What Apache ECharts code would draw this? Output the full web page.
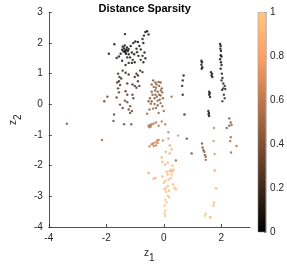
<!DOCTYPE html>
<html><head><meta charset="utf-8">
<script src="https://cdn.jsdelivr.net/npm/echarts@6/dist/echarts.min.js"></script>
<style>html,body{margin:0;padding:0;background:#fff}#c{width:287px;height:268px}</style>
</head><body><div id="c"></div>
<script>
// Point coordinates (z1, z2) and distance-sparsity value
const z1 = [
 -1.35,-0.64,-0.58,-0.53,-0.69,-0.74,-1.72,-1.91,-1.64,
 -1.43,-1.38,-1.35,-1.30,-1.33,-1.40,-1.28,-1.25,-1.45,-1.36,-1.32,-1.22,
 -1.06,-0.99,-0.90,-0.85,-0.95,-0.80,-0.71,-0.67,-1.11,-1.03,-1.22,-1.17,-0.88,-0.74,-0.64,-0.71,-1.01,-1.11,-1.22,-1.33,-1.45,-1.56,-1.27,
 -1.15,-0.93,-1.50,-1.08,-0.80,
 -0.82,-0.74,-0.90,-1.01,-0.95,-1.22,-1.33,-1.43,-1.59,-1.54,-1.48,-1.56,-1.62,-1.59,-1.52,-1.27,-1.09,-1.01,-0.85,-0.90,-0.95,
 -1.33,-1.27,-1.35,-1.27,-1.09,-1.06,-1.17,-1.22,-1.17,-1.11,-1.43,-1.52,-1.64,-1.73,-1.75,-1.38,-1.13,-1.96,-2.07,-1.56,-3.37,-2.15,
 -0.37,-0.29,-0.18,-0.11,-0.42,-0.35,-0.27,-0.16,-0.07,-0.21,-0.29,-0.16,-0.24,-0.11,-0.03,-0.39,-0.48,-0.53,-0.42,-0.32,-0.21,-0.11,-0.05,-0.27,-0.37,-0.50,-0.58,-0.18,0.00,-0.14,-0.21,-0.32,-0.42,-0.05,0.27,
 -0.25,-0.10,-0.30,-0.45,
 -0.53,-0.48,-0.42,-0.35,-0.50,-0.27,-0.18,-0.07,0.05,-0.45,0.16,
 -0.50,-0.42,-0.37,-0.29,-0.23,-0.18,-0.21,-0.27,-0.35,-0.03,0.16,0.50,
 0.21,0.27,0.07,-0.07,-0.05,0.05,0.14,0.24,0.29,0.34,0.21,0.27,0.14,0.16,0.24,0.05,0.00,0.07,0.14,0.03,0.18,0.37,0.42,0.32,0.14,0.19,0.05,0.10,0.03,0.05,0.03,0.05,-0.05,-0.53,-0.29,-0.35,0.42,
 0.30,0.10,0.20,0.08,
 0.69,0.66,0.64,0.66,0.72,0.80,0.97,
 1.31,1.33,1.31,1.34,1.32,1.64,1.68,1.66,1.69,1.58,1.60,1.58,1.61,1.55,1.57,1.56,1.58,
 1.96,1.98,1.97,1.99,1.98,2.01,1.96,1.99,2.01,1.98,2.02,2.04,2.01,2.07,2.12,2.07,2.14,2.03,2.09,2.12,2.04,
 2.28,2.33,2.28,2.36,2.19,2.33,2.31,2.53,2.34,
 1.33,1.35,1.38,1.41,1.43,1.46,1.46,
 1.75,1.73,1.77,1.77,1.82,1.75,1.73,1.46,1.43,1.61,1.63
];
const z2 = [
 2.29,2.36,2.38,2.28,2.24,2.13,1.96,1.65,1.51,
 1.88,1.82,1.75,1.78,1.70,1.72,1.85,1.74,1.78,1.92,1.65,1.80,
 2.00,2.05,2.03,1.90,1.81,1.79,2.00,1.69,1.69,1.63,1.63,1.53,1.58,1.58,1.50,1.37,1.37,1.35,1.35,1.28,1.42,1.56,1.53,
 1.90,1.70,1.65,1.45,1.45,
 1.10,1.05,0.94,0.89,1.00,0.97,1.03,1.10,1.00,0.89,0.84,0.75,0.71,0.52,0.63,0.68,0.65,0.60,0.60,0.75,0.54,
 0.43,0.31,0.12,0.07,0.31,0.20,-0.06,-0.17,-0.28,-0.22,-0.12,-0.01,0.22,-0.33,-0.54,-0.65,-0.65,0.25,0.10,0.39,-0.63,-1.16,
 0.78,0.71,0.73,0.71,0.65,0.57,0.54,0.60,0.52,0.41,0.31,0.31,0.25,0.29,0.20,0.31,0.20,0.10,0.10,0.01,-0.03,0.04,-0.06,-0.12,-0.14,-0.17,-0.31,-0.28,-0.22,0.15,0.12,0.20,0.41,0.39,0.25,
 0.65,0.45,0.45,0.02,
 -0.70,-0.67,-0.65,-0.63,-0.75,-0.59,-0.70,-0.56,-0.65,-0.72,-0.91,
 -1.37,-1.30,-1.28,-1.24,-1.18,-1.16,-1.26,-1.34,-1.36,-1.18,-1.12,-1.02,
 -1.34,-1.47,-1.55,-1.73,-1.87,-1.97,-1.90,-2.13,-2.18,-2.13,-2.18,-2.29,-2.29,-2.45,-2.40,-2.50,-2.56,-2.72,-2.66,-2.77,-2.82,-2.72,-2.77,-2.61,-2.98,-3.03,-3.11,-3.19,-3.30,-3.46,-3.56,-3.64,-2.35,-2.24,-2.40,-2.43,-1.83,
 -2.00,-2.20,-1.60,-2.85,
 0.94,0.78,0.60,0.31,-0.33,-1.12,-1.60,
 1.42,1.37,1.29,1.21,1.16,1.05,1.00,0.94,0.89,0.41,0.36,0.31,0.24,-0.22,-0.28,-0.33,-0.38,
 1.97,1.90,1.81,1.74,1.60,1.56,1.47,1.37,1.28,1.16,1.00,0.86,0.78,0.68,0.60,0.52,0.50,0.47,0.31,0.20,0.10,
 -0.46,-0.59,-0.70,-0.67,-0.77,-1.07,-1.20,-1.36,-1.57,
 -1.28,-1.41,-1.50,-1.55,-1.65,-1.71,-1.81,
 -0.77,-1.20,-1.62,-2.16,-2.74,-3.21,-3.30,-3.57,-3.63,-3.67,-3.70
];
const sparsity = [
 0.02,0.01,0.01,0.02,0.02,0.03,0.03,0.05,0.06,
 0.01,0.01,0.02,0.01,0.02,0.02,0.01,0.02,0.02,0.01,0.03,0.02,
 0.02,0.02,0.02,0.03,0.03,0.03,0.02,0.04,0.03,0.04,0.04,0.05,0.05,0.05,0.06,0.07,0.06,0.06,0.07,0.08,0.07,0.06,0.05,
 0.02,0.04,0.05,0.06,0.07,
 0.10,0.10,0.12,0.13,0.12,0.13,0.12,0.11,0.13,0.14,0.15,0.16,0.17,0.20,0.18,0.18,0.18,0.20,0.20,0.17,0.21,
 0.22,0.24,0.26,0.27,0.24,0.25,0.28,0.29,0.30,0.30,0.28,0.27,0.25,0.30,0.32,0.33,0.33,0.25,0.27,0.23,0.33,0.45,
 0.36,0.37,0.37,0.37,0.38,0.38,0.39,0.38,0.39,0.40,0.40,0.41,0.41,0.41,0.42,0.40,0.41,0.42,0.42,0.43,0.43,0.43,0.44,0.44,0.44,0.45,0.46,0.45,0.45,0.42,0.42,0.41,0.40,0.40,0.45,
 0.38,0.40,0.39,0.43,
 0.55,0.55,0.55,0.54,0.56,0.54,0.56,0.55,0.57,0.55,0.65,
 0.60,0.60,0.60,0.60,0.60,0.60,0.61,0.61,0.61,0.66,0.70,0.70,
 0.75,0.78,0.78,0.80,0.82,0.83,0.83,0.85,0.86,0.85,0.86,0.87,0.87,0.88,0.88,0.89,0.90,0.91,0.90,0.92,0.92,0.90,0.90,0.90,0.94,0.94,0.95,0.95,0.96,0.97,0.98,0.98,0.87,0.78,0.80,0.80,0.45,
 0.85,0.87,0.80,0.93,
 0.05,0.06,0.08,0.10,0.15,0.25,0.30,
 0.03,0.03,0.03,0.04,0.04,0.04,0.04,0.05,0.05,0.06,0.06,0.07,0.07,0.08,0.08,0.09,0.09,
 0.01,0.01,0.01,0.02,0.02,0.02,0.03,0.03,0.04,0.05,0.06,0.08,0.09,0.10,0.12,0.13,0.14,0.14,0.17,0.20,0.22,
 0.35,0.38,0.38,0.40,0.40,0.45,0.47,0.50,0.50,
 0.35,0.37,0.38,0.39,0.40,0.41,0.42,
 0.60,0.65,0.70,0.75,0.80,0.88,0.90,0.95,0.95,0.96,0.96
];
const xTicks = { min: -4, max: 3, interval: 2 };
const yTicks = { min: -4, max: 3, interval: 1 };
const cbTicks = { min: 0, max: 1, interval: 0.2 };
const copper = ['#000000','#40281A','#805033','#BF784C','#FFA066','#FFC77F'];

const data = z1.map((x, i) => [x, z2[i], sparsity[i]]);
const txt = '#262626';
const chart = echarts.init(document.getElementById('c'), null, {renderer: 'canvas'});
const ff = 'Liberation Sans, Arial, sans-serif';
chart.setOption({
  animation: false,
  backgroundColor: '#fff',
  title: { text: 'Distance Sparsity', left: 139.7, textAlign: 'center', top: -2,
    textStyle: { fontSize: 11, fontWeight: 'bold', color: '#000', fontFamily: ff } },
  grid: [
    { left: 29.3, right: 37, top: 12.3, bottom: 35.7 },
    { left: 257.7, width: 10.6, top: 12.3, bottom: 35.7 }
  ],
  xAxis: [
    { gridIndex: 0, type: 'value', min: xTicks.min, max: xTicks.max, interval: xTicks.interval,
      name: '{a|z}{b|1}', nameLocation: 'middle', nameGap: 20,
      nameTextStyle: { rich: { a: { fontSize: 10, color: txt, fontFamily: ff, padding:[0,0,4,0] }, b: { fontSize: 10, color: txt, fontFamily: ff, verticalAlign: 'bottom', padding:[6,0,0,0] } } },
      axisLine: { onZero: false, lineStyle: { color: txt, width: 0.8 } },
      axisTick: { inside: true, length: 3, lineStyle: { color: txt, width: 0.8 } },
      axisLabel: { color: txt, fontSize: 10, fontFamily: ff, margin: 6, showMaxLabel: false },
      splitLine: { show: false } },
    { gridIndex: 1, type: 'category', data: [''], show: false }
  ],
  yAxis: [
    { gridIndex: 0, type: 'value', min: yTicks.min, max: yTicks.max, interval: yTicks.interval,
      name: '{a|z}{b|2}', nameLocation: 'middle', nameGap: 18, nameRotate: 90,
      nameTextStyle: { rich: { a: { fontSize: 10, color: txt, fontFamily: ff, padding:[0,0,4,0] }, b: { fontSize: 10, color: txt, fontFamily: ff, padding:[6,0,0,0] } } },
      axisLine: { show: true, onZero: false, lineStyle: { color: txt, width: 0.8 } },
      axisTick: { show: true, inside: true, length: 3, lineStyle: { color: txt, width: 0.8 } },
      axisLabel: { color: txt, fontSize: 10, fontFamily: ff, margin: 6 },
      splitLine: { show: false } },
    { gridIndex: 1, type: 'value', position: 'right', min: cbTicks.min, max: cbTicks.max, interval: cbTicks.interval,
      axisLine: { show: true, onZero: false, lineStyle: { color: '#999', width: 0.5 } },
      axisTick: { show: true, inside: true, length: 2, lineStyle: { color: txt, width: 0.6 } },
      axisLabel: { color: txt, fontSize: 10, fontFamily: ff, margin: 4 },
      splitLine: { show: false } }
  ],
  visualMap: { show: false, type: 'continuous', seriesIndex: 0, dimension: 2, min: 0, max: 1,
    inRange: { color: copper } },
  series: [
    { type: 'scatter', xAxisIndex: 0, yAxisIndex: 0, data: data, symbol: 'circle', symbolSize: 2.4 },
    { type: 'bar', xAxisIndex: 1, yAxisIndex: 1, data: [cbTicks.max], barWidth: '100%', silent: true,
      itemStyle: { borderColor: '#999', borderWidth: 0.5,
        color: new echarts.graphic.LinearGradient(0, 0, 0, 1,
          copper.slice().reverse().map((c, i) => ({ offset: i / (copper.length - 1), color: c }))) } }
  ]
});
</script></body></html>
